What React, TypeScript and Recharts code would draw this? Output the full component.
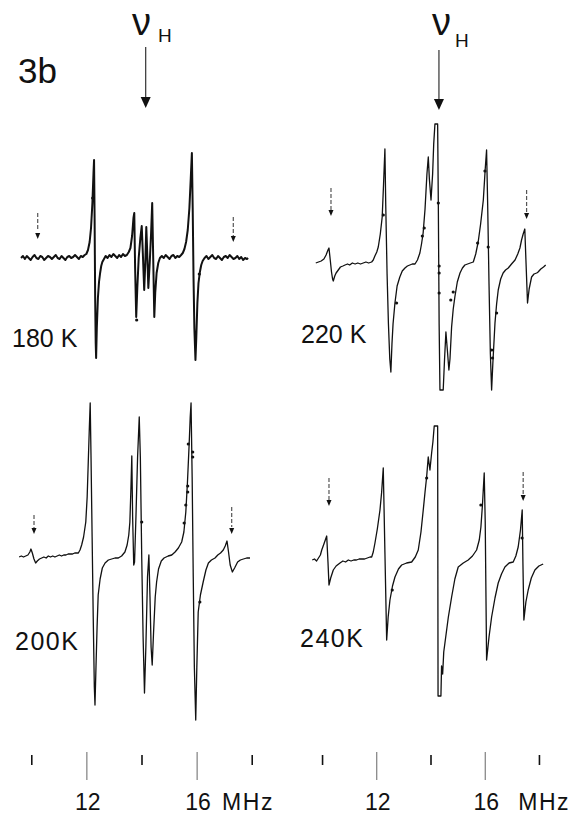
import React from 'react';
import { ComposedChart, Line, Scatter, XAxis, YAxis, ReferenceLine, ReferenceDot } from 'recharts';

// x = frequency (MHz), y = ENDOR derivative amplitude (arb. units, baseline = 0)
const trace180: [number, number][] = [
  [9.61, 0], [9.68, 2], [9.75, -1], [9.82, 2], [9.89, 0], [9.96, -2], [10.03, 1], [10.1, 3], [10.17, 0], [10.24, -1],
  [10.31, 2], [10.38, 1], [10.45, -2], [10.52, 0], [10.59, 2], [10.66, 1], [10.73, -1], [10.8, 1], [10.87, 3], [10.94, 0],
  [11.01, -1], [11.08, 2], [11.15, 0], [11.22, -2], [11.29, 1], [11.36, 2], [11.43, 0], [11.5, 1], [11.57, 3], [11.64, 1],
  [11.71, -1], [11.78, 2], [11.85, 1], [11.92, 3], [11.98, 4], [12.04, 8], [12.1, 16], [12.15, 30], [12.2, 55], [12.24, 85],
  [12.26, 98], [12.28, 40], [12.3, -40], [12.32, -85], [12.335, -100], [12.36, -70], [12.4, -40], [12.44, -24], [12.48, -15],
  [12.52, -8], [12.56, -4], [12.62, -1], [12.68, 2], [12.75, 0], [12.82, 3], [12.89, 1], [12.96, 4], [13.03, 2], [13.1, 0],
  [13.17, 3], [13.24, 1], [13.31, 4], [13.38, 2], [13.45, 3], [13.52, 6], [13.58, 10], [13.64, 22], [13.69, 40], [13.72, 45],
  [13.75, -10], [13.79, -59], [13.83, -30], [13.88, 0], [13.94, 20], [13.99, 32], [14.03, 5], [14.08, -32], [14.12, -5],
  [14.156, 31], [14.19, 5], [14.23, -30], [14.28, -5], [14.33, 25], [14.37, 55], [14.4, 10], [14.446, -59], [14.48, -35],
  [14.53, -15], [14.59, -5], [14.65, 0], [14.72, 2], [14.79, 0], [14.86, 3], [14.93, 1], [15.0, -1], [15.07, 2], [15.14, 3],
  [15.21, 0], [15.28, 2], [15.35, 1], [15.42, 3], [15.48, 5], [15.54, 9], [15.6, 16], [15.66, 28], [15.72, 50], [15.77, 80],
  [15.81, 105], [15.84, 50], [15.87, -20], [15.9, -70], [15.94, -102], [15.97, -80], [16.01, -45], [16.05, -25], [16.1, -14],
  [16.15, -7], [16.2, -3], [16.27, 0], [16.34, 2], [16.41, -1], [16.48, 1], [16.55, 3], [16.62, 0], [16.69, -1], [16.76, 2],
  [16.83, 0], [16.9, -2], [16.97, 1], [17.04, 2], [17.11, 0], [17.18, 3], [17.25, 1], [17.32, -1], [17.39, 0], [17.46, 2],
  [17.53, -1], [17.6, 1], [17.67, -2], [17.74, 0], [17.81, -1], [17.85, 0],
];

const trace220: [number, number][] = [
  [9.75, 1], [9.85, 2], [9.95, 3], [10.05, 5], [10.13, 9], [10.2, 14], [10.237, 16], [10.28, 5], [10.33, -8], [10.37, -15],
  [10.396, -17], [10.45, -12], [10.5, -9], [10.58, -6], [10.66, -3], [10.75, -2], [10.83, -1], [10.92, 0], [11.0, -1], [11.1, 1],
  [11.2, 0], [11.3, 1], [11.4, 0], [11.5, 1], [11.6, 2], [11.7, 1], [11.81, 2], [11.87, 4], [11.93, 8], [12.0, 12], [12.055, 17],
  [12.13, 30], [12.2, 47], [12.25, 80], [12.3, 115], [12.33, 60], [12.38, -10], [12.43, -60], [12.48, -95], [12.52, -108],
  [12.56, -80], [12.6, -60], [12.67, -39], [12.75, -22], [12.85, -13], [12.94, -7], [13.04, -4], [13.13, -2], [13.22, -1],
  [13.31, 0], [13.41, 0], [13.5, 4], [13.59, 11], [13.65, 20], [13.71, 31], [13.78, 55], [13.85, 90], [13.9, 107], [13.94, 85],
  [14.0, 64], [14.06, 90], [14.1, 120], [14.145, 140], [14.245, 140], [14.27, 60], [14.3, -60], [14.33, -126], [14.45, -126],
  [14.5, -95], [14.55, -68], [14.6, -85], [14.66, -106], [14.7, -95], [14.76, -63], [14.82, -45], [14.88, -33], [14.97, -18],
  [15.07, -9], [15.16, -4], [15.25, -1], [15.35, 0], [15.45, 1], [15.56, 2], [15.65, 10], [15.74, 22], [15.83, 40], [15.93, 64],
  [16.0, 95], [16.05, 114], [16.09, 60], [16.14, -20], [16.19, -90], [16.236, -126], [16.28, -100], [16.36, -59], [16.42, -40],
  [16.48, -26], [16.57, -15], [16.66, -9], [16.75, -6], [16.85, -4], [16.97, 0], [17.1, 4], [17.2, 10], [17.28, 16], [17.34, 24],
  [17.4, 30], [17.46, 35], [17.5, 5], [17.56, -39], [17.62, -25], [17.71, -13], [17.8, -10], [17.9, -9], [17.95, -8], [18.05, -5],
  [18.15, -3], [18.23, -1],
];

const trace200: [number, number][] = [
  [9.54, 0], [9.62, 1], [9.7, 0], [9.78, 1], [9.86, 2], [9.93, 5], [9.97, 8], [10.02, 4], [10.08, -2], [10.14, -6], [10.2, -4],
  [10.28, -2], [10.36, -1], [10.44, 0], [10.52, -1], [10.6, 1], [10.68, 0], [10.76, 1], [10.84, 0], [10.92, 1], [11.0, 2],
  [11.08, 1], [11.16, 2], [11.24, 2], [11.32, 3], [11.4, 3], [11.48, 3], [11.56, 4], [11.64, 4], [11.69, 4], [11.75, 7],
  [11.81, 12], [11.88, 20], [11.96, 35], [12.01, 60], [12.05, 95], [12.09, 130], [12.12, 154], [12.15, 100], [12.19, 20],
  [12.23, -60], [12.27, -130], [12.294, -148], [12.33, -110], [12.37, -70], [12.41, -38], [12.48, -22], [12.56, -11],
  [12.66, -6], [12.78, -3], [12.9, -2], [13.02, -1], [13.14, -1], [13.26, 1], [13.38, 5], [13.46, 12], [13.52, 22], [13.56, 35],
  [13.6, 70], [13.63, 101], [13.66, 40], [13.7, -8], [13.73, -5], [13.78, 40], [13.84, 100], [13.9, 140], [13.94, 100],
  [13.99, 0], [14.04, -80], [14.09, -136], [14.14, -90], [14.2, -20], [14.25, 2], [14.29, -40], [14.33, -90], [14.37, -108],
  [14.42, -75], [14.48, -40], [14.53, -25], [14.6, -12], [14.7, -4], [14.8, -1], [14.95, 1], [15.08, 2], [15.2, 5], [15.32, 9],
  [15.44, 15], [15.52, 25], [15.59, 45], [15.65, 75], [15.71, 112], [15.75, 140], [15.78, 154], [15.82, 80], [15.86, -20],
  [15.9, -110], [15.95, -163], [15.99, -110], [16.04, -55], [16.12, -38], [16.22, -25], [16.32, -13], [16.41, -6], [16.52, -3],
  [16.65, -1], [16.75, 2], [16.85, 4], [16.95, 7], [17.02, 11], [17.085, 16], [17.14, 5], [17.2, -8], [17.28, -15], [17.36, -11],
  [17.47, -5], [17.57, -3], [17.68, -2], [17.8, -1], [17.92, -1],
];

const trace240: [number, number][] = [
  [9.62, 2], [9.7, 3], [9.78, 1], [9.85, 4], [9.92, 7], [9.97, 12], [10.05, 18], [10.153, 26], [10.2, 0], [10.237, -23],
  [10.3, -16], [10.396, -8], [10.5, -4], [10.643, -1], [10.75, 1], [10.85, 0], [10.95, 2], [11.05, 1], [11.15, 2], [11.25, 2],
  [11.35, 3], [11.45, 3], [11.55, 3], [11.65, 4], [11.75, 5], [11.812, 5], [11.87, 10], [11.933, 19], [12.02, 33], [12.118, 52],
  [12.18, 70], [12.239, 94], [12.3, 10], [12.365, -78], [12.42, -55], [12.486, -38], [12.58, -24], [12.671, -15], [12.8, -7],
  [12.918, -3], [13.1, -1], [13.286, 0], [13.42, 5], [13.53, 12], [13.63, 30], [13.714, 52], [13.78, 70], [13.839, 85],
  [13.898, 105], [13.961, 92], [14.023, 109], [14.07, 120], [14.119, 136], [14.245, 136], [14.26, -134], [14.366, -134],
  [14.39, -104], [14.43, -112], [14.47, -90], [14.514, -81], [14.64, -55], [14.761, -35], [14.88, -17], [15.004, -5],
  [15.19, -1], [15.373, 2], [15.53, 6], [15.682, 12], [15.78, 22], [15.841, 35], [15.9, 58], [15.963, 89], [16.0, 40],
  [16.051, -98], [16.14, -75], [16.236, -55], [16.36, -36], [16.479, -21], [16.6, -12], [16.726, -5], [16.88, -1], [17.032, 0],
  [17.13, 6], [17.216, 15], [17.3, 32], [17.364, 52], [17.39, 0], [17.426, -58], [17.5, -40], [17.585, -28], [17.7, -16],
  [17.832, -8], [17.98, -4], [18.138, -2],
];

// isolated pen dots on the recorder traces
const dots180: [number, number][] = [[13.807, -62], [16.08, -16], [12.21, 60]];
const dots220: [number, number][] = [
  [12.24, 49], [12.73, -39], [13.68, 28], [13.75, 36], [14.27, 61], [14.3, -2], [14.3, -9], [14.3, -29],
  [14.73, -36], [14.82, -28], [15.72, 21], [15.99, 93], [16.11, 17], [16.24, -86], [16.27, -94], [16.42, -49],
];
const dots200: [number, number][] = [
  [15.68, 113], [15.84, 105], [15.84, 100], [15.66, 71], [15.66, 65], [15.59, 52], [15.53, 34], [13.99, 35], [16.1, -45],
];
const dots240: [number, number][] = [[13.84, 84], [12.57, -28], [15.84, 57], [17.36, 24]];

// small line markers: [MHz, dash top, dash bottom, arrow head]
const markers180: [number, number, number, number][] = [[10.215, 45, 28, 22], [17.313, 41, 22, 19]];
const markers220: [number, number, number, number][] = [[10.311, 76, 54, 51], [17.526, 74, 52, 48]];
const markers200: [number, number, number, number][] = [[10.081, 42, 29, 26], [17.255, 50, 30, 26]];
const markers240: [number, number, number, number][] = [[10.237, 84, 62, 59], [17.4, 90, 66, 64]];

// free-proton frequency arrows: [MHz, top, bottom, head]
const nuLeft: [number, number, number, number] = [14.134, 211, 160, 155];
const nuRight: [number, number, number, number] = [14.293, 214, 164, 159];

const tickValues = [10, 12, 14, 16, 18];
const labeledTicks = [12, 16];
const unitLabel = 'MHz';
const temps = ['180 K', '220 K', '200K', '240K'];

const FONT = '"Liberation Sans", Arial, sans-serif';
const INK = '#111';
const RIGHT_PAD = 60;

const toPts = (a: [number, number][]) => a.map(([x, y]) => ({ x, y }));

const SmallHead = (p: any) => (
  <polygon points={`${p.cx - 2.5},${p.cy - 3} ${p.cx + 2.5},${p.cy - 3} ${p.cx},${p.cy + 3}`} fill={INK} />
);
const BigHead = (p: any) => (
  <polygon points={`${p.cx - 5},${p.cy - 6} ${p.cx + 5},${p.cy - 6} ${p.cx},${p.cy + 5}`} fill={INK} />
);

const AxisTick = (props: any) => {
  const { x, y, payload, mhzDx } = props;
  const v = payload.value;
  const long = labeledTicks.includes(v);
  return (
    <g>
      {long ? (
        <line x1={x} x2={x} y1={y} y2={y + 28} stroke="#666" strokeWidth={1} />
      ) : (
        <line x1={x} x2={x} y1={y + 3} y2={y + 13} stroke={INK} strokeWidth={1.6} />
      )}
      {long && (
        <text x={x + 1} y={y + 58} textAnchor="middle" fontFamily={FONT} fontSize={23} fill={INK}>
          {v}
        </text>
      )}
      {v === 16 && (
        <text x={x + mhzDx} y={y + 58} textAnchor="start" fontFamily={FONT} fontSize={23} letterSpacing={1.5} fill={INK}>
          {unitLabel}
        </text>
      )}
    </g>
  );
};

type PanelProps = {
  trace: [number, number][];
  dots: [number, number][];
  markers: [number, number, number, number][];
  nu?: [number, number, number, number];
  left: number;
  top: number;
  width: number;
  height: number;
  yDomain: [number, number];
  mhzDx?: number;
  lineWidth?: number;
};

const Panel = ({ trace, dots, markers, nu, left, top, width, height, yDomain, mhzDx, lineWidth = 1.3 }: PanelProps) => {
  const showAxis = mhzDx !== undefined;
  return (
    <div style={{ position: 'absolute', left, top, width: width + RIGHT_PAD, height }}>
      <ComposedChart
        width={width + RIGHT_PAD}
        height={height}
        data={toPts(trace)}
        margin={{ top: 0, right: RIGHT_PAD, bottom: 0, left: 0 }}
      >
        <XAxis
          type="number"
          dataKey="x"
          domain={[9.5, 18.5]}
          allowDataOverflow
          hide={!showAxis}
          ticks={tickValues}
          interval={0}
          axisLine={false}
          tickLine={false}
          tickSize={0}
          tickMargin={0}
          height={showAxis ? 63 : 0}
          tick={<AxisTick mhzDx={mhzDx} />}
        />
        <YAxis type="number" domain={yDomain} allowDataOverflow hide />
        <Line
          type="linear"
          dataKey="y"
          stroke={INK}
          strokeWidth={lineWidth}
          strokeLinejoin="round"
          dot={false}
          isAnimationActive={false}
        />
        <Scatter
          data={toPts(dots)}
          dataKey="y"
          isAnimationActive={false}
          shape={(p: any) => <circle cx={p.cx} cy={p.cy} r={1.6} fill={INK} />}
        />
        {markers.map(([mx, a, b], i) => (
          <ReferenceLine
            key={`m${i}`}
            segment={[{ x: mx, y: a }, { x: mx, y: b }]}
            stroke="#555"
            strokeWidth={1.2}
            strokeDasharray="4 2"
            ifOverflow="visible"
          />
        ))}
        {markers.map(([mx, , , h], i) => (
          <ReferenceDot key={`h${i}`} x={mx} y={h} r={3} ifOverflow="visible" shape={SmallHead} />
        ))}
        {nu && (
          <ReferenceLine
            segment={[{ x: nu[0], y: nu[1] }, { x: nu[0], y: nu[2] }]}
            stroke="#333"
            strokeWidth={1.2}
            ifOverflow="visible"
          />
        )}
        {nu && <ReferenceDot x={nu[0]} y={nu[3]} r={5} ifOverflow="visible" shape={BigHead} />}
      </ComposedChart>
    </div>
  );
};

export default function App() {
  return (
    <div style={{ position: 'absolute', left: 0, top: 0, width: 573, height: 815, background: '#fff', overflow: 'hidden' }}>
      <Panel trace={trace180} dots={dots180} markers={markers180} nu={nuLeft} left={18} top={0} width={248} height={400} yDomain={[-142, 258]} lineWidth={2} />
      <Panel trace={trace220} dots={dots220} markers={markers220} nu={nuRight} left={309} top={0} width={244} height={400} yDomain={[-136, 264]} />
      <Panel trace={trace200} dots={dots200} markers={markers200} left={18} top={400} width={248} height={415} yDomain={[-195, 157]} mhzDx={25} />
      <Panel trace={trace240} dots={dots240} markers={markers240} left={309} top={400} width={244} height={415} yDomain={[-190, 162]} mhzDx={33} />
      <svg width={573} height={815} style={{ position: 'absolute', left: 0, top: 0, pointerEvents: 'none' }}>
        <g fontFamily={FONT} fill={INK}>
          <text x={18} y={83} fontSize={35}>3b</text>
          <text x={132} y={35} fontSize={38}>ν</text>
          <text x={158} y={42} fontSize={19}>H</text>
          <text x={432} y={35} fontSize={38}>ν</text>
          <text x={455} y={47} fontSize={19}>H</text>
          <text x={12} y={347} fontSize={25}>{temps[0]}</text>
          <text x={301} y={343} fontSize={25}>{temps[1]}</text>
          <text x={15} y={650} fontSize={25} letterSpacing={1.5}>{temps[2]}</text>
          <text x={300} y={647} fontSize={25} letterSpacing={1.5}>{temps[3]}</text>
        </g>
      </svg>
    </div>
  );
}
